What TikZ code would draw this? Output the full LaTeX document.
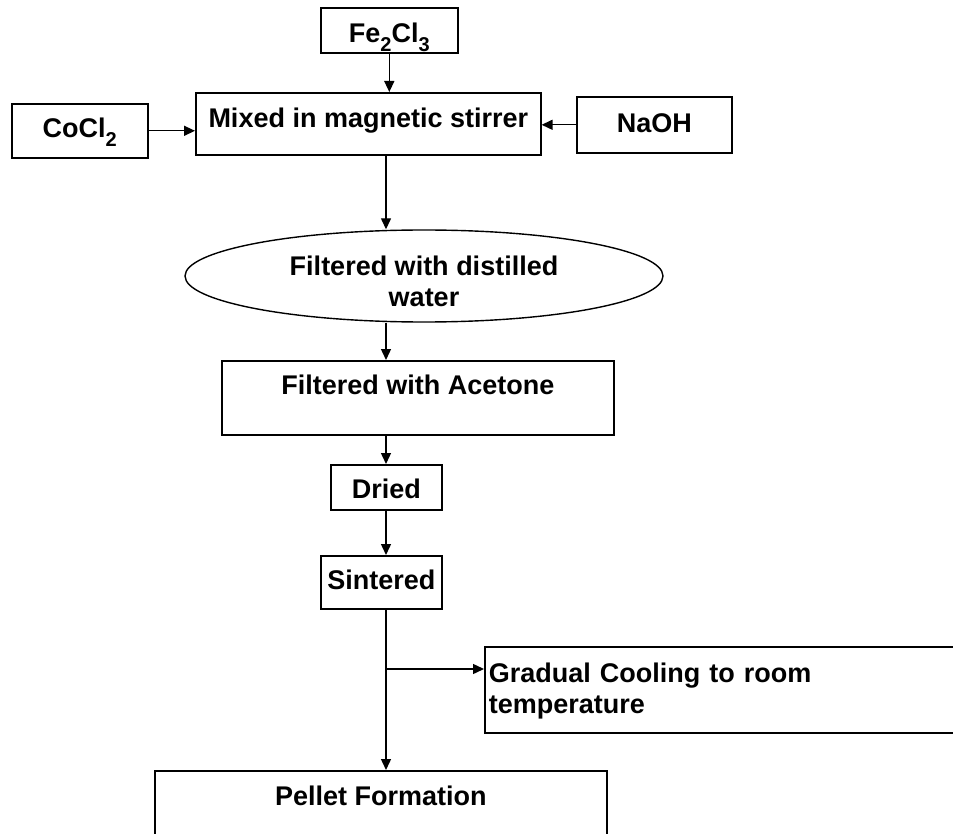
\documentclass[tikz,border=0pt]{standalone}
\usepackage{fontspec}
\setmainfont{Liberation Sans}
\usetikzlibrary{arrows.meta,shapes.geometric}

\newcommand{\chemsub}[1]{\raisebox{-9pt}{\fontsize{20}{20}\selectfont #1}}

\begin{document}
\begin{tikzpicture}[x=1pt,y=-1pt,
    font=\fontsize{27}{31}\selectfont\bfseries,
    box/.style={draw, line width=1.6pt, anchor=north west, inner xsep=4pt, inner ysep=0pt},
    arr/.style={-{Triangle[length=11pt,width=10pt]}, line width=1.4pt}]
    \useasboundingbox (0,0) rectangle (953,834);

    % Chemicals going into the stirrer
    \node[box, minimum width=137pt, text height=35pt, text depth=10pt] (fe) at (320,7) {Fe\chemsub{2}Cl\chemsub{3}};
    \node[box, minimum width=136pt, text height=34pt, text depth=20pt] (co) at (11,103) {CoCl\chemsub{2}};
    \node[box, minimum width=155pt, text height=36pt, text depth=20pt] (na) at (576,96) {NaOH};
    \node[box, minimum width=345pt, text height=35pt, text depth=27pt] (mix) at (195,92) {Mixed in magnetic stirrer};

    % Washing and drying steps
    \node[draw, ellipse, line width=1.4pt, inner sep=0pt, align=center,
          minimum width=478pt, minimum height=92pt, text height=60pt, text depth=-22pt]
          (wash) at (424,276) {Filtered with distilled\\water};
    \node[box, minimum width=392pt, text height=34pt, text depth=40pt] (acet) at (221,360) {Filtered with Acetone};
    \node[box, minimum width=111pt, text height=34pt, text depth=11pt] (dry) at (330,464) {Dried};
    \node[box, minimum width=121pt, text height=34pt, text depth=19pt] (sint) at (320,555) {Sintered};

    % Final steps (boxes run past the page edge)
    \node[box, text width=468pt, align=left, text height=36pt, text depth=50pt] (cool) at (484,646) {Gradual Cooling to room\\temperature};
    \node[box, minimum width=452pt, text height=35pt, text depth=60pt] (pel) at (154,770) {Pellet Formation};

    % Connectors
    \coordinate (spine) at (386,0);
    \coordinate (split) at (386,669);
    \draw[arr] (fe.south) -- (fe.south |- mix.north);
    \draw[arr] (co.east) -- (co.east -| mix.west);
    \draw[arr] (na.west) -- (na.west -| mix.east);
    \draw[arr] (mix.south -| spine) -- (wash.north -| spine);
    \draw[arr] (wash.south -| spine) -- (acet.north -| spine);
    \draw[arr] (acet.south -| spine) -- (dry.north -| spine);
    \draw[arr] (dry.south -| spine) -- (sint.north -| spine);
    \draw[arr] (sint.south -| spine) -- (pel.north -| spine);
    \draw[arr] (split) -- (split -| cool.west);
\end{tikzpicture}
\end{document}
